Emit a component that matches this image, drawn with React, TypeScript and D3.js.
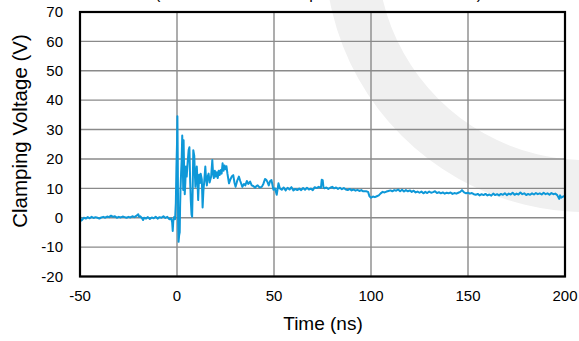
import React from "react";
import * as d3 from "d3";

const xTicks = [-50, 0, 50, 100, 150, 200];
const yTicks = [-20, -10, 0, 10, 20, 30, 40, 50, 60, 70];

const times = [
  -50, -49.5, -49, -48, -47, -46, -45, -44, -43, -42, -41, -40, -39, -38, -37, -36, -35, -34, -33, -32, -31, -30,
  -29, -28, -27, -26, -25, -24, -23, -22, -21, -20, -19.5, -19, -18, -17.5, -17, -16, -15, -14, -13, -12, -11, -10,
  -9, -8, -7, -6, -5, -4, -3, -2.5, -2.2, -1.9, -1.5, -1.0, -0.6, -0.3, 0, 0.2, 0.4, 0.6, 0.8, 1.1, 1.4, 1.6, 1.8,
  2.1, 2.4, 2.7, 3.0, 3.2, 3.4, 3.7, 4.0, 4.3, 4.6, 5.0, 5.4, 6.0, 6.4, 6.8, 7.1, 7.5, 7.8, 8.1, 8.4, 8.9, 9.2, 9.5,
  10.2, 10.6, 10.9, 11.4, 11.8, 12.2, 12.8, 13.2, 13.6, 14.0, 14.6, 15.0, 15.4, 15.8, 16.3, 16.8, 17.2, 17.6, 18.2,
  18.6, 19.0, 19.5, 20.0, 20.5, 21.0, 21.5, 22.0, 22.5, 23.0, 23.5, 24.0, 24.5, 25, 25.5, 26, 26.8, 27.5, 28.2, 29,
  29.6, 30.2, 31, 31.9, 32.6, 33.7, 34.5, 35.2, 36, 36.8, 37.7, 38.5, 39.3, 40.3, 41, 41.6, 42.5, 43.7, 44.5, 45.4,
  46, 46.6, 47.3, 48, 48.7, 49.7, 50.5, 51.4, 52.3, 53, 54, 55, 56, 57, 58, 59, 60, 61, 62, 63, 64, 65, 66, 67, 68,
  69, 70, 71, 72, 73, 74.2, 74.6, 75.1, 75.5, 76, 77, 78, 79, 80, 81, 82, 83, 84, 85, 86, 87, 88, 89, 90, 91, 92, 93,
  94, 95, 96, 97.5, 98.5, 99.2, 100, 101, 102, 103, 104, 105, 106, 107, 108, 109, 110, 111, 112, 113, 114, 115, 116,
  117, 118, 119, 120, 121, 122, 123, 124, 125, 126, 127, 128, 129, 130, 131, 132, 133, 134, 135, 136, 137, 138, 139,
  140, 141, 142, 143, 144, 145, 146, 146.9, 148, 149, 150, 151, 152, 153, 154, 155, 156, 157, 158, 159, 160, 161, 162,
  163, 164, 165, 166, 167, 168, 169, 170, 171, 172, 173, 174, 175, 176, 177, 178, 179, 180, 181, 182, 183, 184, 185,
  186, 187, 188, 189, 190, 191, 192, 193, 194, 195, 196, 197, 197.5, 198, 199, 200,
];

const volts = [
  0.5, -1.0, -0.8, 0.0, -0.3, 0.2, -0.2, 0.3, -0.1, 0.2, 0.0, -0.3, 0.1, 0.3, 0.0, 0.4, 0.2, 0.7, 0.3, 0.5, 0.0, 0.3,
  0.1, 0.4, 0.2, 0.0, 0.3, 0.1, 0.5, 0.2, 0.6, 1.2, 0.3, 0.5, -0.2, -0.8, 0.0, -0.3, 0.2, -0.4, 0.1, -0.2, 0.3, -0.3,
  0.2, 0.0, 0.5, -0.1, 0.3, -0.5, -0.3, -1.5, -4.5, -1.0, 0.2, -0.5, 5, 17, 25, 34.5, 20, -2, -8.2, -6, -5, 4, 9.4,
  15, 19.6, 28, 18, 9.4, 26.4, 15, 8, 12, 17.4, 14, 18, 23, 24, 12, 6, 1, 0.3, 10, 23, 21, 15, 10.5,
  17.4, 12, 6, 14.6, 11.8, 15, 13, 3.5, 9, 12, 17.4, 13, 11, 14, 15, 12, 13, 14, 19.6,
  15, 13.5, 16, 14, 15.5, 13.5, 16, 14.5, 16.2, 15, 18.5, 16, 17.8, 16.5, 17.5, 15, 11.7, 13, 14, 14.5,
  12, 10.5, 12.5, 14, 12.5, 10.5, 11.5, 11, 12.5, 11.5, 12.3, 11, 10.8, 10.2, 10.8, 11, 10.3, 10.5, 11.5, 13.2,
  12.9, 12.2, 11, 12.5, 12.8, 9.5, 10, 7.8, 11.7, 10, 9.5, 10.3, 9.3, 10.2, 9.6, 10.4, 9.3, 9.8, 9.4, 9.9, 9.4, 10.1, 9.5, 10.2, 9.6,
  9.9, 9.4, 10.4, 10.1, 10.5, 10.2, 12.9, 12.8, 10.3, 10, 10.3, 9.8, 10.2, 10.5, 10, 10.3, 9.8, 10.2, 9.7, 10.1, 9.6, 9.4, 9.8, 9.3, 9.6, 9.2, 9.5,
  9.1, 9.4, 9.0, 9.0, 8.8, 7.3, 6.8, 7.2, 7.0, 7.3, 7.6, 8.3, 8.8, 8.6, 8.9, 9.1, 9.3, 9.0, 9.4, 9.2, 9.6, 9.0, 9.5,
  8.9, 9.4, 9.0, 9.3, 8.8, 9.2, 8.6, 8.9, 8.5, 8.9, 8.3, 8.8, 8.4, 8.9, 8.5, 8.7, 9.0, 8.4, 8.7, 8.3, 8.6, 8.2, 8.5,
  8.3, 8.6, 8.1, 8.4, 8.2, 8.5, 8.8, 9.4, 8.6, 8.3, 8.5, 8.2, 8.4, 8.0, 7.8, 8.1, 7.6, 8.0, 7.7, 8.1, 7.6, 7.9, 7.5,
  8.2, 7.7, 8.0, 7.6, 8.1, 7.8, 8.3, 7.7, 8.2, 7.9, 8.5, 7.8, 8.2, 7.9, 8.6, 8.0, 8.3, 7.7, 8.1, 7.8, 8.3, 7.9, 8.4,
  8.0, 8.3, 7.9, 8.5, 8.0, 8.3, 7.8, 8.4, 8.0, 8.2, 7.7, 6.4, 7.6, 6.8, 7.2, 7.4,
];

const title = "(8-kV ESD Clamp Result at Diode)";
const xLabel = "Time (ns)";
const yLabel = "Clamping Voltage (V)";

export default function App() {
  const W = 579, H = 341;
  const left = 80, right = 565, top = 12, bottom = 276.5;
  const x = d3.scaleLinear().domain([-50, 200]).range([left, right]);
  const y = d3.scaleLinear().domain([-20, 70]).range([bottom, top]);
  const pts: [number, number][] = times.map((t, i) => [t, volts[i]]);
  const line = d3.line<[number, number]>().x((d) => x(d[0])).y((d) => y(d[1]));

  const arc = d3.arc()({
    innerRadius: 209,
    outerRadius: 261,
    startAngle: Math.PI * 0.9,
    endAngle: Math.PI * 1.6,
  } as any) as string;

  const font = "Liberation Sans, Arial, sans-serif";
  return (
    <svg width={W} height={H} style={{ position: "absolute", left: 0, top: 0, background: "#fff" }} fontFamily={font}>
      <path d={arc} transform="translate(586,-49)" fill="#f0f0f0" />
      <text x={155} y={-1} fontSize={16} textLength={327} lengthAdjust="spacing" fill="#000">
        {title}
      </text>
      {xTicks.map((t) => (
        <line key={"gx" + t} x1={x(t)} x2={x(t)} y1={top} y2={bottom} stroke="#8a8a8a" strokeWidth={1.4} />
      ))}
      {yTicks.map((t) => (
        <line key={"gy" + t} x1={left} x2={right} y1={y(t)} y2={y(t)} stroke="#8a8a8a" strokeWidth={1.4} />
      ))}
      <path d={line(pts) as string} fill="none" stroke="#0e98d8" strokeWidth={2} strokeLinejoin="round" />
      <rect x={left} y={top} width={right - left} height={bottom - top} fill="none" stroke="#000" strokeWidth={2.2} />
      {yTicks.map((t) => (
        <text key={"ty" + t} x={63} y={y(t)} dy="0.35em" textAnchor="end" fontSize={15} fill="#000">
          {t}
        </text>
      ))}
      {xTicks.map((t) => (
        <text key={"tx" + t} x={x(t)} y={301} textAnchor="middle" fontSize={15} fill="#000">
          {t}
        </text>
      ))}
      <text x={323} y={330} textAnchor="middle" fontSize={19} fill="#000">
        {xLabel}
      </text>
      <text transform="translate(27,131) rotate(-90)" textAnchor="middle" fontSize={20.5} fill="#000">
        {yLabel}
      </text>
    </svg>
  );
}
